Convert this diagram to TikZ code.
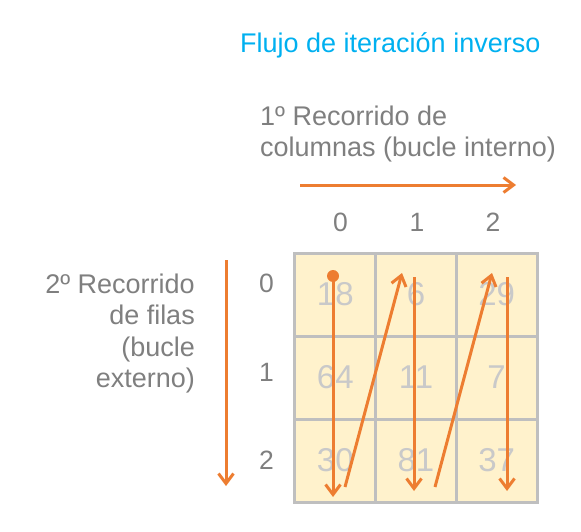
\documentclass[tikz,border=0pt]{standalone}
\usepackage{fontspec}
\setmainfont{Liberation Sans}
\usetikzlibrary{arrows.meta}
\definecolor{orng}{HTML}{ED7D31}
\definecolor{txtgray}{HTML}{7F7F7F}
\definecolor{numgray}{HTML}{C9C9C9}
\definecolor{cellfill}{HTML}{FFF2CC}
\definecolor{gridgray}{HTML}{BFBFBF}
\definecolor{titleblue}{HTML}{00B0F0}
\begin{document}
\begin{tikzpicture}[x=1pt,y=-1pt,
  cell/.style={draw=gridgray,line width=3pt,fill=cellfill,minimum width=80.67pt,minimum height=83pt,inner sep=0pt,text=numgray,font=\fontsize{33}{36}\selectfont},
  idx/.style={text=txtgray,inner sep=0pt,font=\fontsize{26.5}{30}\selectfont},
  lbl/.style={text=txtgray,inner sep=0pt,font=\fontsize{27}{32}\selectfont},
  flow/.style={draw=orng,line width=3pt,-{Straight Barb[length=10pt,width=15pt]}}
]
\useasboundingbox (0,0) rectangle (581,532);
\node[anchor=base west,inner sep=0pt,text=titleblue,font=\fontsize{27}{32}\selectfont] (title) at (240,53) {Flujo de iteración inverso};
\node[lbl,anchor=base west] (top1) at (260,126) {1º Recorrido de};
\node[lbl,anchor=base west] (top2) at (260,157) {columnas (bucle interno)};
\node[lbl,anchor=base east] (left1) at (195,293) {2º Recorrido};
\node[lbl,anchor=base east] (left2) at (195,324.5) {de filas};
\node[lbl,anchor=base east] (left3) at (195,356) {(bucle};
\node[lbl,anchor=base east] (left4) at (195,387.5) {externo)};
% column and row indices
\node[idx] (col0) at (340.5,222) {0};
\node[idx] (col1) at (417,222) {1};
\node[idx] (col2) at (493,222) {2};
\node[idx] (row0) at (266.5,283.5) {0};
\node[idx] (row1) at (266.5,372) {1};
\node[idx] (row2) at (266.5,460) {2};
% cells
\node[cell] (c00) at (335.33,294.5) {18};
\node[cell] (c01) at (416.00,294.5) {6};
\node[cell] (c02) at (496.67,294.5) {29};
\node[cell] (c10) at (335.33,377.5) {64};
\node[cell] (c11) at (416.00,377.5) {11};
\node[cell] (c12) at (496.67,377.5) {7};
\node[cell] (c20) at (335.33,460.5) {30};
\node[cell] (c21) at (416.00,460.5) {81};
\node[cell] (c22) at (496.67,460.5) {37};
% direction arrows
\coordinate (hs) at (300,185);
\coordinate (he) at (516,185);
\coordinate (vs) at (226,260);
\coordinate (ve) at (226,486);
\draw[flow] (hs) -- (he);
\draw[flow] (vs) -- (ve);
% traversal path
\coordinate (a0s) at (333,276);
\coordinate (a0e) at (333,497);
\coordinate (d1s) at (345,487);
\coordinate (d1e) at (402,273);
\coordinate (a1s) at (414,277);
\coordinate (a1e) at (414,491);
\coordinate (d2s) at (435,487);
\coordinate (d2e) at (492,273);
\coordinate (a2s) at (507,277);
\coordinate (a2e) at (507,491);
\fill[orng] (a0s) circle (6pt);
\draw[flow] (a0s) -- (a0e);
\draw[flow] (d1s) -- (d1e);
\draw[flow] (a1s) -- (a1e);
\draw[flow] (d2s) -- (d2e);
\draw[flow] (a2s) -- (a2e);
\end{tikzpicture}
\end{document}
